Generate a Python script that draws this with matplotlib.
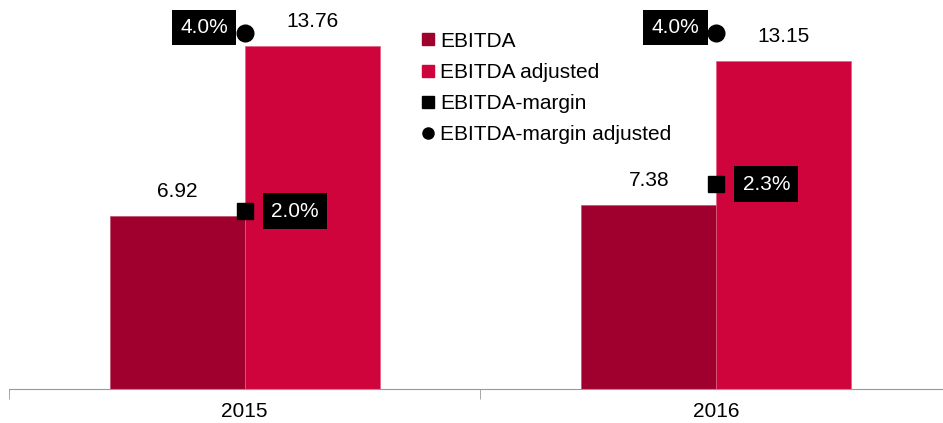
import numpy as np
import matplotlib.pyplot as plt
from matplotlib.lines import Line2D

plt.rcParams['font.family'] = ['Liberation Sans', 'DejaVu Sans']

years = ["2015", "2016"]
ebitda = [6.92, 7.38]
ebitda_adj = [13.76, 13.15]
margin = [2.0, 2.3]
margin_adj = [4.0, 4.0]

c_dark = "#A0002D"
c_red = "#D0043C"
fs = 15

fig = plt.figure(figsize=(9.43, 4.23), dpi=100)
ax = fig.add_axes([0.0095, 34 / 423, 1.0, 389 / 423])

x = np.arange(len(years))
w = 0.286
ax.bar(x - w / 2, ebitda, w, color=c_dark, edgecolor="#c0506a", linewidth=0.5)
ax.bar(x + w / 2, ebitda_adj, w, color=c_red, edgecolor="#e06080", linewidth=0.5)

for i in range(len(years)):
    ax.annotate(f"{ebitda[i]:.2f}", (x[i] - w / 2, ebitda[i]), xytext=(0, 11),
                textcoords="offset points", ha="center", va="bottom", fontsize=fs)
    ax.annotate(f"{ebitda_adj[i]:.2f}", (x[i] + w / 2, ebitda_adj[i]), xytext=(0, 11),
                textcoords="offset points", ha="center", va="bottom", fontsize=fs)

ax.set_xlim(-0.5, 1.5)
ax.set_ylim(0, 389 / 24.93)
ax.set_yticks([])
for s in ["top", "right", "left"]:
    ax.spines[s].set_visible(False)
ax.spines["bottom"].set_color("#999999")
ax.set_xticks(x)
ax.set_xticklabels(years, fontsize=fs)
ax.tick_params(axis="x", which="major", length=0, pad=9)
ax.set_xticks([-0.5, 0.5, 1.5], minor=True)
ax.tick_params(axis="x", which="minor", length=7, color="#999999")

ax2 = ax.twinx()
ax2.set_ylim(0, 389 / 89)
ax2.axis("off")
ax2.plot(x, margin, "s", color="black", markersize=12, linestyle="none")
ax2.plot(x, margin_adj, "o", color="black", markersize=12, linestyle="none")

box = dict(boxstyle="square,pad=0.4", facecolor="black", edgecolor="none")
for i in range(len(years)):
    ax2.annotate(f"{margin[i]:.1f}%", (x[i], margin[i]), xytext=(19, 0),
                 textcoords="offset points", ha="left", va="center",
                 fontsize=fs, color="white", bbox=box)
    ax2.annotate(f"{margin_adj[i]:.1f}%", (x[i], margin_adj[i]), xytext=(-12, 4),
                 textcoords="offset points", ha="right", va="center",
                 fontsize=fs, color="white", bbox=box)

handles = [
    Line2D([], [], marker="s", color=c_dark, linestyle="none", markersize=9),
    Line2D([], [], marker="s", color=c_red, linestyle="none", markersize=9),
    Line2D([], [], marker="s", color="black", linestyle="none", markersize=9),
    Line2D([], [], marker="o", color="black", linestyle="none", markersize=8),
]
labels = ["EBITDA", "EBITDA adjusted", "EBITDA-margin", "EBITDA-margin adjusted"]
fig.legend(handles, labels, loc="upper left", bbox_to_anchor=(0.436, 0.95),
           frameon=False, fontsize=fs, handlelength=0.6, handletextpad=0.3,
           labelspacing=0.59, borderpad=0)

fig.savefig("out.png", dpi=100)
